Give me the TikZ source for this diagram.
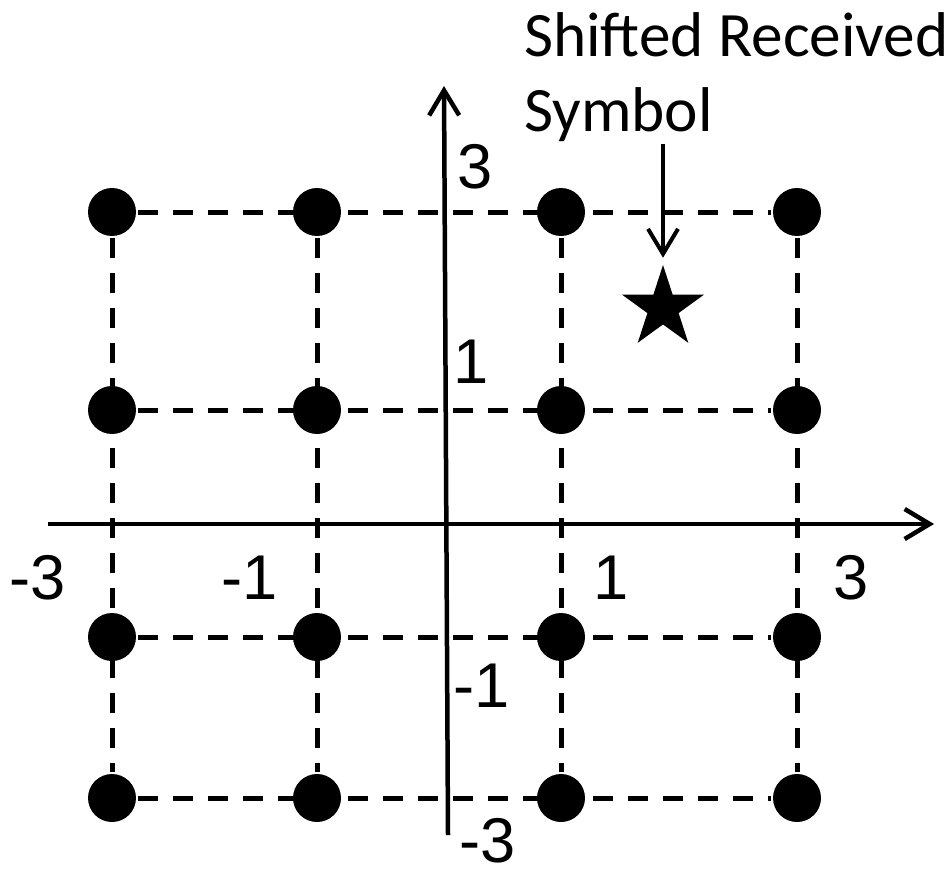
\documentclass[tikz,border=0pt]{standalone}
\usepackage{fontspec}
\setmainfont{Liberation Sans}
\newfontfamily\titlefont{Carlito}
\usetikzlibrary{arrows.meta,shapes.geometric}

\begin{document}
\begin{tikzpicture}[x=0.02cm, y=-0.02cm, line width=0.09cm,
    >={Straight Barb[length=0.5cm, width=0.6cm]},
    dot/.style={circle, fill, inner sep=0, minimum size=0.96cm},
    gridline/.style={dash pattern=on 0.4cm off 0.3cm, line width=0.1cm},
    tick/.style={font=\fontsize{36}{36}\selectfont, inner sep=0}]
    \useasboundingbox (0,0) rectangle (952,875);
    % constellation points
    \foreach \c/\x in {1/112, 2/317, 3/561, 4/797}
      \foreach \r/\y in {1/212, 2/410, 3/637, 4/798}
        \node[dot] (d\c\r) at (\x,\y) {};
    \foreach \r in {1,...,4}
      \draw[gridline] (d1\r) -- (d4\r);
    \foreach \c in {1,...,4}
      \draw[gridline] (d\c1) -- (d\c4);
    % axes
    \coordinate (xl) at (48,524);
    \coordinate (xr) at (934,524);
    \coordinate (yb) at (448,835);
    \coordinate (yt) at (444,86);
    \draw[->] (xl) -- (xr);
    \draw[->] (yb) -- (yt);
    \node[tick] (xm3) at (38,578) {-3};
    \node[tick] (xm1) at (250,578) {-1};
    \node[tick] (xp1) at (611,578) {1};
    \node[tick] (xp3) at (851,578) {3};
    \node[tick] (yp3) at (475,167) {3};
    \node[tick] (yp1) at (471,362) {1};
    \node[tick] (ym1) at (482,686) {-1};
    \node[tick] (ym3) at (488,841) {-3};
    % received symbol
    \node[star, star points=5, star point ratio=2.618, fill, inner sep=0, minimum size=1.72cm] (sym) at (663,308) {};
    \node[font=\titlefont\fontsize{36}{42.7}\selectfont, align=left, anchor=north west, inner sep=0] (title) at (522,10) {Shifted Received\\Symbol};
    \draw[->, line width=0.08cm] (sym.north |- title.south) -- (sym.north);
\end{tikzpicture}
\end{document}
